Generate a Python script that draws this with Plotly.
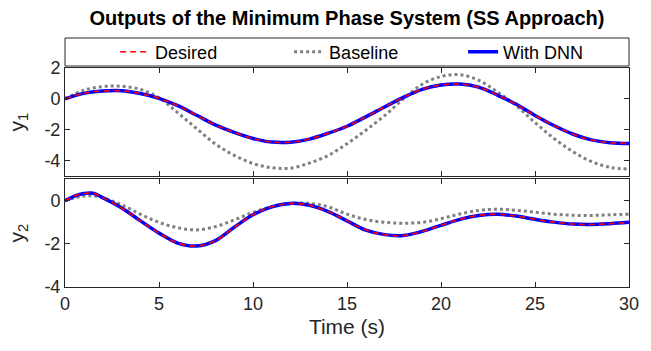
import plotly.graph_objects as go
from plotly.subplots import make_subplots

# ---------------- data ----------------
t1 = list(range(0, 31))
y1_desired = [0, 0.36, 0.51, 0.53, 0.35, 0.04, -0.44, -1.06, -1.68, -2.17, -2.56, -2.79,
              -2.80, -2.60, -2.22, -1.77, -1.16, -0.52, 0.10, 0.62, 0.90, 0.96, 0.76, 0.25,
              -0.35, -1.07, -1.72, -2.27, -2.65, -2.83, -2.88]
y1_baseline = [0, 0.56, 0.80, 0.82, 0.62, 0.08, -0.90, -1.92, -2.92, -3.65, -4.18, -4.45,
               -4.48, -4.15, -3.66, -2.90, -2.03, -1.08, 0.0, 0.95, 1.45, 1.57, 1.21, 0.45,
               -0.43, -1.53, -2.55, -3.40, -4.05, -4.43, -4.54]
y1_dnn = y1_desired

t2 = [0, 0.5, 1, 1.5, 2] + list(range(3, 31))
y2_desired = [0, 0.22, 0.34, 0.35, 0.15, -0.32, -0.92, -1.50, -1.96, -2.10, -1.85, -1.23,
              -0.65, -0.28, -0.12, -0.21, -0.50, -0.93, -1.36, -1.57, -1.61, -1.42, -1.14,
              -0.86, -0.68, -0.62, -0.71, -0.86, -0.99, -1.08, -1.10, -1.06, -1.00]
y2_baseline = [0, 0.14, 0.22, 0.23, 0.14, -0.18, -0.62, -1.00, -1.25, -1.35, -1.20, -0.89,
               -0.54, -0.27, -0.12, -0.12, -0.28, -0.62, -0.87, -1.00, -1.04, -1.00, -0.83,
               -0.61, -0.45, -0.39, -0.44, -0.53, -0.62, -0.67, -0.68, -0.65, -0.62]
y2_dnn = y2_desired

x_ticks = [0, 5, 10, 15, 20, 25, 30]
x_ticktext = ["0", "5", "10", "15", "20", "25", "30"]
y1_ticks = [-4, -2, 0, 2]
y1_ticktext = ["-4", "-2", "0", "2"]
y2_ticks = [-4, -2, 0]
y2_ticktext = ["-4", "-2", "0"]

title_text = "Outputs of the Minimum Phase System (SS Approach)"
names = ["Desired", "Baseline", "With DNN"]

# ---------------- figure ----------------
FONT = "Liberation Sans, Arial, sans-serif"
AX = "#262626"

fig = make_subplots(rows=2, cols=1, shared_xaxes=False, vertical_spacing=0.0)

for row, (tt, des, base, dnn) in enumerate(
        [(t1, y1_desired, y1_baseline, y1_dnn), (t2, y2_desired, y2_baseline, y2_dnn)], start=1):
    show = row == 1
    fig.add_trace(go.Scatter(x=tt, y=base, mode="lines", name=names[1], legendrank=2,
                             showlegend=show, line=dict(color="#808080", width=3, dash="3px,3px",
                                                        shape="spline")), row=row, col=1)
    fig.add_trace(go.Scatter(x=tt, y=dnn, mode="lines", name=names[2], legendrank=3,
                             showlegend=show, line=dict(color="#0000FF", width=3.5,
                                                        shape="spline")), row=row, col=1)
    fig.add_trace(go.Scatter(x=tt, y=des, mode="lines", name=names[0], legendrank=1,
                             showlegend=show, line=dict(color="#FF0000", width=1.6, dash="6px,4px",
                                                        shape="spline")), row=row, col=1)

axis_common = dict(showline=True, linecolor=AX, linewidth=1, mirror="ticks", ticks="inside",
                   ticklen=5, tickcolor=AX, showgrid=False, zeroline=False,
                   tickfont=dict(family=FONT, size=18, color=AX))

fig.update_xaxes(**axis_common, range=[0, 30], tickvals=x_ticks)
fig.update_xaxes(row=1, col=1, showticklabels=False, domain=[0, 1])
fig.update_xaxes(row=2, col=1, ticktext=x_ticktext,
                 title=dict(text="Time (s)", font=dict(family=FONT, size=21, color=AX), standoff=6))

fig.update_yaxes(**axis_common)
fig.update_yaxes(row=1, col=1, range=[-5, 2], tickvals=y1_ticks, ticktext=y1_ticktext,
                 domain=[0.506, 1.0],
                 title=dict(text="y<sub>1</sub>", font=dict(family=FONT, size=21, color=AX), standoff=14))
fig.update_yaxes(row=2, col=1, range=[-4, 1], tickvals=y2_ticks, ticktext=y2_ticktext,
                 domain=[0.0, 0.492],
                 title=dict(text="y<sub>2</sub>", font=dict(family=FONT, size=21, color=AX), standoff=14))

# legend frame (paper coords: plot area spans y 68..287 px, x 65..639 px)
fig.add_shape(type="rect", xref="paper", yref="paper", x0=0, x1=1,
              y0=(287 - 66) / 219, y1=(287 - 38) / 219,
              line=dict(color=AX, width=1), fillcolor="rgba(0,0,0,0)")

fig.update_layout(
    width=651, height=351,
    margin=dict(l=65, r=12, t=68, b=64),
    paper_bgcolor="white", plot_bgcolor="white",
    title=dict(text="<b>" + title_text + "</b>", x=0.5, xref="paper", y=1 - 18 / 351,
               yanchor="middle", font=dict(family=FONT, size=20, color="black")),
    legend=dict(orientation="h", x=(116 - 65) / 574, xanchor="left",
                y=(287 - 52) / 219, yanchor="middle",
                entrywidth=129, entrywidthmode="pixels",
                font=dict(family=FONT, size=18, color="black"),
                bgcolor="rgba(0,0,0,0)", borderwidth=0, tracegroupgap=0),
    showlegend=True,
)

fig.write_html("out.html")
